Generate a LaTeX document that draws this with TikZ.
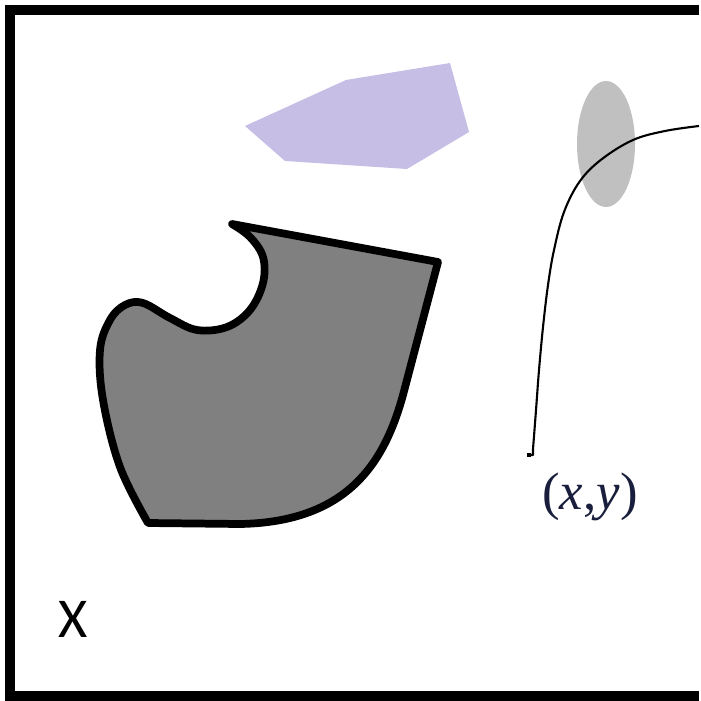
\documentclass[tikz,border=0pt]{standalone}
\usepackage{fontspec}
\usepackage{tikz}
\newfontfamily\labelserif{Liberation Serif}
\newfontfamily\labelsans{Carlito}
\definecolor{lavender}{RGB}{198,190,228}
\definecolor{spotgray}{RGB}{192,192,192}
\definecolor{blobgray}{RGB}{128,128,128}
\definecolor{inknavy}{RGB}{25,30,60}
\tikzset{
  % outer frame of the space X
  frame/.style={draw=black, line width=0.1cm},
  % the obstacle with thick outline
  blob/.style={draw=black, fill=blobgray, line width=2.2pt, line join=round},
  % light regions
  region/.style={fill=lavender},
  spot/.style={fill=spotgray},
  % the trajectory
  trajectory/.style={draw=black, line width=0.6pt, line join=round},
  % labels
  pointlabel/.style={text=inknavy},
  spacelabel/.style={text=black},
}

\begin{document}
\begin{tikzpicture}[x=0.01cm, y=-0.01cm, shift={(0cm,7cm)}]

  \useasboundingbox (0,0) rectangle (701,700);

  % Frame (open on the right, cut by the picture edge)
  \draw[frame] (699,10) -- (10,10) -- (10,696) -- (699,696);

  % Lavender polygon
  \fill[region] (245,126) -- (285,161) -- (407,169) -- (469,132)
    -- (450,63) -- (346,80) -- cycle;

  % Gray ellipse
  \fill[spot] (606,144) ellipse [x radius=29, y radius=63];

  % Obstacle
  \filldraw[blob] (232,224) -- (438,262) -- (403,395)
    .. controls (385,460) and (350,522) .. (240,524)
    -- plot[smooth, tension=0.6] coordinates {
      (148,523) (120,467) (103,400) (100,350) (110,320) (125,305)
      (143,303) (170,318) (197,330) (227,327) (250,310) (263,283)
      (263,257) (250,237) (232,224)}
    -- cycle;

  % Trajectory
  \draw[trajectory] (529,455) -- (533,455) -- plot[smooth, tension=0.6] coordinates {
      (533,449) (536,410) (539,370) (543,327) (548,285) (554,250)
      (564,212) (580,181) (602,159) (633,140) (665,131) (699,126)};
  \fill (527,453) rectangle (531,457);

  % Labels
  \node[pointlabel] (start) at (590,497)
    {\labelserif\fontsize{15}{18}\selectfont (\textit{x},\textit{y})};
  \node[spacelabel] (space) at (73,619)
    {\labelsans\fontsize{16}{19}\selectfont X};

\end{tikzpicture}
\end{document}
